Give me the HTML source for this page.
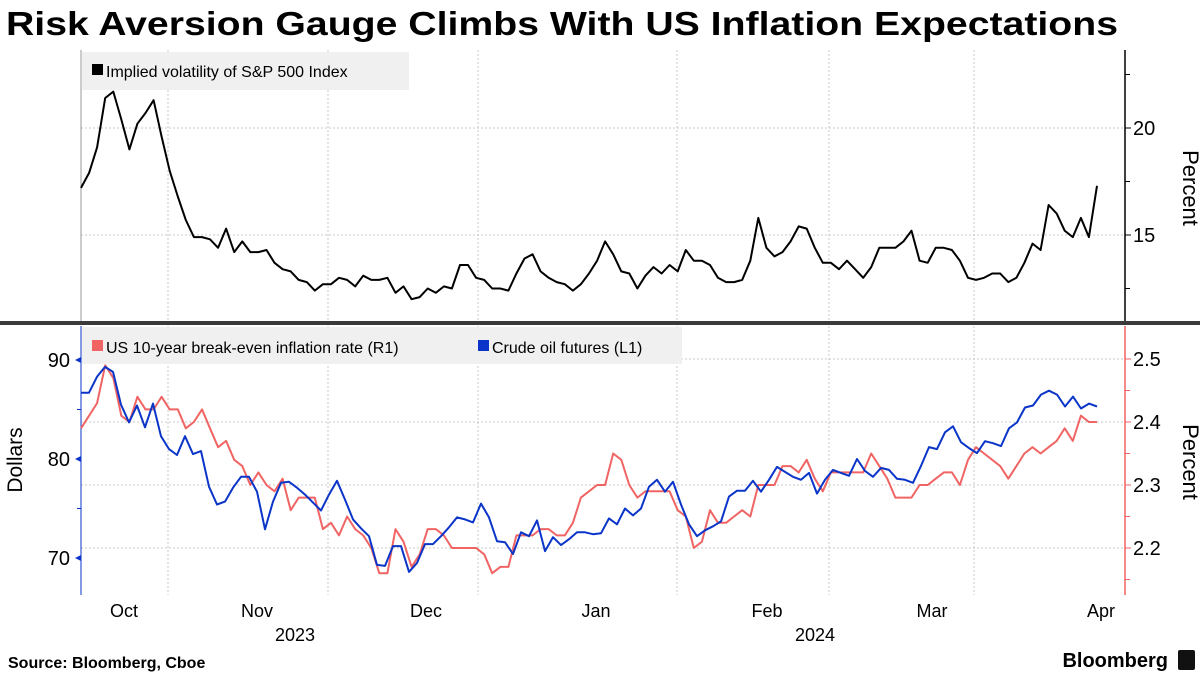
<!DOCTYPE html>
<html><head><meta charset="utf-8"><style>
body{margin:0;background:#fff;}
svg{display:block;font-family:"Liberation Sans","DejaVu Sans",sans-serif;}
</style></head><body>
<svg id="chart" width="1200" height="675" viewBox="0 0 1200 675">
<text x="6" y="35" font-size="33" font-weight="bold" textLength="1112" lengthAdjust="spacingAndGlyphs">Risk Aversion Gauge Climbs With US Inflation Expectations</text>
<g id="grid"></g>
<rect x="82" y="52" width="327" height="38" fill="#f0f0f0"/>
<rect x="92" y="64" width="11" height="11" fill="#000"/>
<text x="106" y="77" font-size="16">Implied volatility of S&amp;P 500 Index</text>
<rect x="82" y="327" width="600" height="37" fill="#f0f0f0"/>
<rect x="92" y="340" width="11" height="11" fill="#f06464"/>
<text x="106" y="353" font-size="16">US 10-year break-even inflation rate (R1)</text>
<rect x="478" y="340" width="11" height="11" fill="#0a35c8"/>
<text x="492" y="353" font-size="16">Crude oil futures (L1)</text>
<g id="axes"></g>
<g id="series"></g>
<rect x="0" y="321" width="1200" height="4" fill="#3a3a3a"/>
<text x="1183" y="188" font-size="22" text-anchor="middle" transform="rotate(90 1183 188)">Percent</text>
<text x="1183" y="462" font-size="22" text-anchor="middle" transform="rotate(90 1183 462)">Percent</text>
<text x="22" y="460" font-size="21" text-anchor="middle" transform="rotate(-90 22 460)">Dollars</text>
<text x="295" y="641" font-size="18" text-anchor="middle">2023</text>
<text x="815" y="641" font-size="18" text-anchor="middle">2024</text>
<text x="8" y="668" font-size="16" font-weight="bold">Source: Bloomberg, Cboe</text>
<text x="1168" y="667" font-size="20" font-weight="bold" text-anchor="end">Bloomberg</text>
<rect x="1178" y="650" width="17" height="20" rx="2" fill="#111"/>
</svg>
<script>
const vix=[17.2,17.9,19.1,21.4,21.7,20.4,19.0,20.2,20.7,21.3,19.6,18.0,16.8,15.7,14.9,14.9,14.8,14.4,15.3,14.2,14.7,14.2,14.2,14.3,13.7,13.4,13.3,12.9,12.8,12.4,12.7,12.7,13.0,12.9,12.6,13.1,12.9,12.9,13.0,12.3,12.6,12.0,12.1,12.5,12.3,12.6,12.5,13.6,13.6,13.0,12.9,12.5,12.5,12.4,13.2,13.9,14.1,13.3,13.0,12.8,12.7,12.4,12.7,13.2,13.8,14.7,14.1,13.3,13.2,12.5,13.1,13.5,13.2,13.6,13.3,14.3,13.8,13.8,13.6,13.0,12.8,12.8,12.9,13.8,15.8,14.4,14.0,14.2,14.7,15.4,15.3,14.4,13.7,13.7,13.4,13.8,13.4,13.0,13.5,14.4,14.4,14.4,14.7,15.2,13.8,13.7,14.4,14.4,14.3,13.8,13.0,12.9,13.0,13.2,13.2,12.8,13.0,13.7,14.6,14.3,16.4,16.0,15.2,14.9,15.8,14.9,17.3];
const oil=[86.7,86.7,88.3,89.3,88.8,85.5,83.7,85.4,83.2,85.6,82.3,81.0,80.4,82.3,80.5,80.8,77.2,75.4,75.7,77.1,78.2,78.2,76.7,72.9,75.7,77.6,77.7,77.1,76.4,75.6,74.8,76.4,77.8,75.9,73.9,73.0,72.2,69.3,69.2,71.2,71.2,68.6,69.5,71.4,71.4,72.2,73.1,74.1,73.9,73.6,75.5,74.1,71.7,71.6,70.4,72.6,72.2,73.8,70.7,72.1,71.3,71.9,72.6,72.6,72.4,72.5,74.0,73.4,75.0,74.3,75.0,77.2,77.9,76.7,77.7,75.4,73.4,72.2,72.8,73.2,73.7,76.2,76.8,76.8,77.8,76.7,77.9,79.2,78.7,78.2,77.9,78.6,76.5,77.9,78.9,78.6,78.3,80.0,78.8,78.2,79.1,78.9,78.0,77.9,77.6,79.3,81.2,81.0,82.7,83.3,81.7,81.1,80.6,81.8,81.6,81.3,83.1,83.7,85.2,85.4,86.5,86.9,86.5,85.3,86.3,85.1,85.6,85.3];
const breakeven=[2.39,2.41,2.43,2.49,2.47,2.41,2.40,2.44,2.42,2.42,2.44,2.42,2.42,2.39,2.40,2.42,2.39,2.36,2.37,2.34,2.33,2.30,2.32,2.30,2.29,2.31,2.26,2.28,2.28,2.28,2.23,2.24,2.22,2.25,2.23,2.22,2.20,2.16,2.16,2.23,2.21,2.17,2.19,2.23,2.23,2.22,2.20,2.20,2.20,2.20,2.19,2.16,2.17,2.17,2.22,2.22,2.22,2.23,2.23,2.22,2.22,2.24,2.28,2.29,2.30,2.30,2.35,2.34,2.30,2.28,2.29,2.29,2.29,2.29,2.26,2.25,2.20,2.21,2.26,2.24,2.24,2.25,2.26,2.25,2.30,2.30,2.30,2.33,2.33,2.32,2.34,2.31,2.29,2.32,2.32,2.32,2.32,2.32,2.35,2.33,2.31,2.28,2.28,2.28,2.30,2.30,2.31,2.32,2.32,2.30,2.34,2.36,2.35,2.34,2.33,2.31,2.33,2.35,2.36,2.35,2.36,2.37,2.39,2.37,2.41,2.40,2.40];
const months=["Oct","Nov","Dec","Jan","Feb","Mar","Apr"];
const vixTicks=[15,20];
const oilTicks=[70,80,90];
const beTicks=[2.2,2.3,2.4,2.5];

const NS="http://www.w3.org/2000/svg";
function mk(tag,attrs,parent){const e=document.createElementNS(NS,tag);for(const k in attrs)e.setAttribute(k,attrs[k]);parent.appendChild(e);return e;}
const X0=81,X1=1097;
function xIdx(i,n){return X0+i*(X1-X0)/(n-1);}
function yVix(v){return 128+(20-v)*21.4;}
function yOil(v){return 360+(90-v)*9.9;}
function yBe(v){return 422+(2.4-v)*630;}

const grid=document.getElementById('grid'),axes=document.getElementById('axes'),ser=document.getElementById('series');
[168,328,478,677,829,974].forEach(x=>{
  const l=mk('line',{x1:x,x2:x,y1:50,y2:595,stroke:'#c8c8c8','stroke-dasharray':'2,2'},grid);
  
  
});
vixTicks.forEach(v=>{
  const y=yVix(v);
  const g=mk('line',{x1:81,x2:1125,y1:y,y2:y,stroke:'#c8c8c8','stroke-dasharray':'2,2'},grid);
  
  
  const t=mk('text',{x:1133,y:y+7,'font-size':20},axes);t.textContent=v;
  
  
  mk('line',{x1:1125,x2:1131,y1:y,y2:y,stroke:'#000'},axes);
});
[12.5,17.5,22.5].forEach(v=>{const y=yVix(v);mk('line',{x1:1125,x2:1130,y1:y,y2:y,stroke:'#000'},axes);});
mk('line',{x1:1125,x2:1125,y1:50,y2:321,stroke:'#000','stroke-width':1.5},axes);
mk('line',{x1:81,x2:81,y1:50,y2:321,stroke:'#999'},axes);
beTicks.forEach(v=>{
  const y=yBe(v);
  const g=mk('line',{x1:81,x2:1125,y1:y,y2:y,stroke:'#c8c8c8','stroke-dasharray':'2,2'},grid);
  
  
  const t=mk('text',{x:1133,y:y+7,'font-size':20},axes);t.textContent=v.toFixed(1);
  
  
  mk('line',{x1:1125,x2:1131,y1:y,y2:y,stroke:'#f06464'},axes);
});
[2.15,2.25,2.35,2.45].forEach(v=>{const y=yBe(v);mk('line',{x1:1125,x2:1130,y1:y,y2:y,stroke:'#f06464'},axes);});
mk('line',{x1:1125,x2:1125,y1:326,y2:595,stroke:'#f06464','stroke-width':1.5},axes);
oilTicks.forEach(v=>{
  const y=yOil(v);
  const t=mk('text',{x:70,y:y+7,'font-size':20,'text-anchor':'end'},axes);t.textContent=v;
  
  
  mk('path',{d:`M75 ${y} L81 ${y-3} L81 ${y+3}Z`,fill:'#0a35c8'},axes);
});
[75,85].forEach(v=>{const y=yOil(v);mk('line',{x1:77,x2:81,y1:y,y2:y,stroke:'#0a35c8'},axes);});
mk('line',{x1:81,x2:81,y1:326,y2:595,stroke:'#0a35c8','stroke-width':1},axes);
const monthX=[124,257,426,596,767,932,1101];
months.forEach((m,i)=>{
  const t=mk('text',{x:monthX[i],y:617,'font-size':18,'text-anchor':'middle'},axes);t.textContent=m;
  
  
});
function line(arr,yf,color,name,w){
  const d=arr.map((v,i)=>(i?'L':'M')+xIdx(i,arr.length).toFixed(1)+' '+yf(v).toFixed(1)).join(' ');
  const p=mk('path',{d:d,fill:'none',stroke:color,'stroke-width':w,'stroke-linejoin':'round'},ser);
  
  
}
line(vix,yVix,'#000','vix-line',2);
line(breakeven,yBe,'#f06464','breakeven-line',2);
line(oil,yOil,'#0a35c8','oil-line',2);
</script>
</body></html>
